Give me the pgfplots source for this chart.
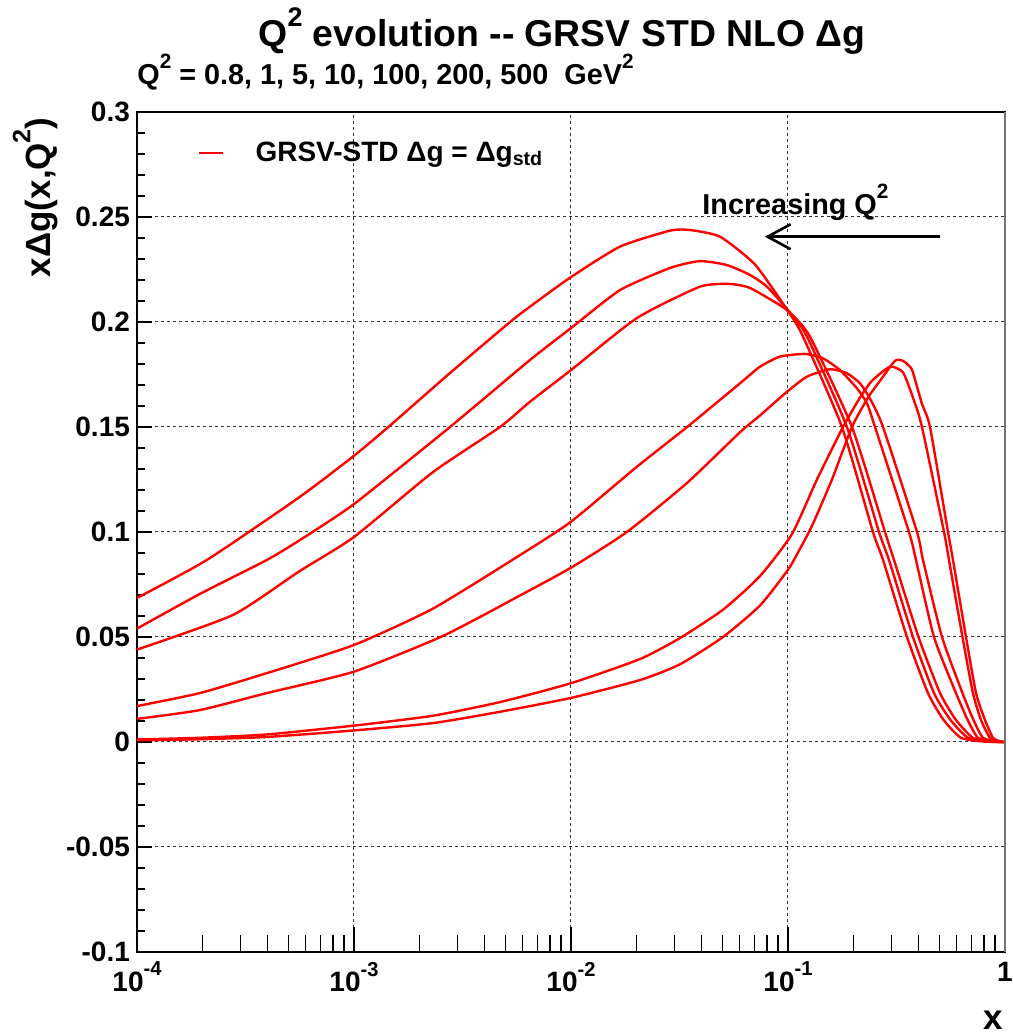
\documentclass[border=0pt]{standalone}
\usepackage{fontspec}
\setmainfont{Liberation Sans}
\usepackage{graphicx}
\usepackage{pgfplots}
\pgfplotsset{compat=1.18}
\usetikzlibrary{arrows.meta}
\newcommand\rsup[1]{\raisebox{0.56em}{\scalebox{0.72}{#1}}}
\pgfplotsset{curve/.style={red, line width=1.2pt, line join=round, mark=none, solid, smooth, tension=0.35}}
\begin{document}
\begin{tikzpicture}
\useasboundingbox (0,0) rectangle (506pt,518pt);
\begin{axis}[
  at={(68.5pt,42pt)}, anchor=south west,
  scale only axis, width=434pt, height=420pt,
  xmode=log, xmin=1e-4, xmax=1, ymin=-0.1, ymax=0.3,
  xtick={1e-4,1e-3,1e-2,1e-1,1},
  xticklabels={10\rsup{-4},10\rsup{-3},10\rsup{-2},10\rsup{-1},1},
  minor xtick={2e-4,3e-4,4e-4,5e-4,6e-4,7e-4,8e-4,9e-4,
               2e-3,3e-3,4e-3,5e-3,6e-3,7e-3,8e-3,9e-3,
               2e-2,3e-2,4e-2,5e-2,6e-2,7e-2,8e-2,9e-2,
               0.2,0.3,0.4,0.5,0.6,0.7,0.8,0.9},
  ytick={-0.1,-0.05,0,0.05,0.1,0.15,0.2,0.25,0.3},
  yticklabels={-0.1,-0.05,0,0.05,0.1,0.15,0.2,0.25,0.3},
  minor y tick num=4,
  tick align=inside, tick pos=left,
  x tick style={/pgfplots/major tick length=12.5pt, /pgfplots/minor tick length=8.5pt, black, line width=0.6pt},
  y tick style={/pgfplots/major tick length=7.5pt, /pgfplots/minor tick length=4pt, black, line width=0.6pt},
  ticklabel style={font=\bfseries\fontsize{14}{16}\selectfont},
  xticklabel style={yshift=-1.5pt},
  grid=major,
  major grid style={black!80, line width=0.5pt, dash pattern=on 1.5pt off 1.5pt},
  axis line style={black, line width=0.7pt},
  clip=false,
  legend style={at={(axis description cs:0.0703,0.9512)}, anchor=west,
    draw=none, fill=none, inner sep=0pt, outer sep=0pt,
    font=\bfseries\fontsize{14}{16}\selectfont, nodes={inner sep=0pt}},
  legend cell align=left,
  legend image code/.code={\draw[red,line width=1.3pt] (0pt,0pt) -- (12pt,0pt); \path (27.5pt,0pt);},
]
% Q2 = 500
\addplot[curve] coordinates {(1e-4,0.0686) (2.1e-4,0.0867) (5.64e-4,0.1168) (1e-3,0.1363) (1.44e-3,0.150) (2.77e-3,0.1757) (5.24e-3,0.200) (6.47e-3,0.2073) (0.01,0.2214) (0.01683,0.2359) (0.02858,0.2435) (0.03532,0.2438) (0.04864,0.2406) (0.0707,0.2272) (0.1021,0.2038) (0.1173,0.193) (0.1773,0.15) (0.2464,0.1) (0.2741,0.0867) (0.3535,0.05) (0.4417,0.0233) (0.5214,0.0105) (0.6268,0.002) (0.8,0.0002) (1,0)};
\addlegendentry{GRSV-STD Δg = Δg\textsubscript{std}}
% Q2 = 200
\addplot[curve] coordinates {(1e-4,0.054) (1.95e-4,0.0705) (3.97e-4,0.0867) (5.64e-4,0.0962) (1e-3,0.1133) (2.77e-3,0.15) (6.47e-3,0.1819) (0.01,0.1971) (0.01683,0.2152) (0.02858,0.2257) (0.03926,0.2290) (0.05236,0.2271) (0.06683,0.2224) (0.0800,0.2168) (0.1021,0.2045) (0.1224,0.193) (0.1869,0.15) (0.2627,0.1) (0.2920,0.0867) (0.3767,0.05) (0.4708,0.0233) (0.5607,0.0105) (0.6753,0.002) (0.85,0.0002) (1,0)};
% Q2 = 100
\addplot[curve] coordinates {(1e-4,0.044) (2.77e-4,0.0605) (5.64e-4,0.0815) (1e-3,0.0976) (2.31e-3,0.1285) (4.71e-3,0.150) (6.47e-3,0.162) (0.01,0.1771) (0.02014,0.2019) (0.03926,0.2168) (0.05408,0.2181) (0.06683,0.2162) (0.0918,0.208) (0.1043,0.2035) (0.1263,0.193) (0.1972,0.15) (0.2799,0.1) (0.3080,0.0867) (0.3995,0.05) (0.5018,0.0233) (0.5944,0.0105) (0.7119,0.002) (0.88,0.0002) (1,0)};
% Q2 = 10
\addplot[curve] coordinates {(1e-4,0.0171) (1.95e-4,0.0233) (3.97e-4,0.0328) (1e-3,0.0462) (2.31e-3,0.0635) (5.82e-3,0.089) (0.01,0.1049) (0.02014,0.1311) (0.03428,0.15) (0.0601,0.1708) (0.0743,0.1787) (0.0918,0.1835) (0.1198,0.1848) (0.1450,0.1827) (0.1736,0.1771) (0.2080,0.1684) (0.2312,0.1613) (0.2518,0.15) (0.3610,0.1) (0.3889,0.0867) (0.4708,0.05) (0.5944,0.0233) (0.6731,0.0105) (0.7513,0.002) (0.9,0.0002) (1,0)};
% Q2 = 5
\addplot[curve] coordinates {(1e-4,0.011) (1.95e-4,0.0152) (3.97e-4,0.0233) (1e-3,0.0335) (2.57e-3,0.0505) (5.64e-3,0.069) (0.01,0.083) (0.0181,0.1) (0.0342,0.1233) (0.0601,0.1475) (0.0743,0.1555) (0.099,0.1668) (0.1224,0.174) (0.1562,0.1775) (0.1869,0.1756) (0.2147,0.1708) (0.2387,0.1635) (0.2741,0.15) (0.3931,0.1) (0.4188,0.0867) (0.5126,0.05) (0.6369,0.0233) (0.7157,0.0105) (0.7917,0.002) (0.92,0.0002) (1,0)};
% Q2 = 1
\addplot[curve] coordinates {(1e-4,0.0012) (1.95e-4,0.002) (3.97e-4,0.0036) (1e-3,0.0078) (2.31e-3,0.0125) (4.71e-3,0.019) (0.01,0.028) (0.0208,0.0395) (0.0318,0.0495) (0.0502,0.063) (0.0743,0.079) (0.1043,0.099) (0.136,0.125) (0.1793,0.15) (0.2147,0.164) (0.2438,0.172) (0.2951,0.1787) (0.3388,0.176) (0.3767,0.164) (0.4144,0.15) (0.5236,0.1) (0.5518,0.0867) (0.6369,0.05) (0.7119,0.0233) (0.775,0.0105) (0.853,0.002) (0.95,0.0002) (1,0)};
% Q2 = 0.8
\addplot[curve] coordinates {(1e-4,0.0008) (1.95e-4,0.0013) (3.97e-4,0.0024) (1e-3,0.0055) (2.31e-3,0.009) (4.71e-3,0.0144) (0.01,0.021) (0.0208,0.0295) (0.0318,0.037) (0.0502,0.050) (0.0743,0.065) (0.1,0.082) (0.1136,0.092) (0.1291,0.103) (0.1595,0.125) (0.1972,0.15) (0.2337,0.164) (0.2655,0.172) (0.3112,0.1815) (0.3388,0.1815) (0.365,0.1787) (0.3767,0.176) (0.4144,0.161) (0.4513,0.15) (0.5462,0.1) (0.5760,0.0867) (0.6612,0.05) (0.7355,0.0233) (0.8087,0.0105) (0.8803,0.002) (0.96,0.0002) (1,0)};
\draw[black!55, line width=1.2pt] (rel axis cs:1,0) -- (rel axis cs:1,1);
\draw[-{Straight Barb[length=11.5pt,width=12.5pt]}, black, line width=1.3pt] (axis cs:0.5018,0.2406) -- (axis cs:0.0783,0.2406);
\end{axis}
\node[anchor=base, font=\bfseries\fontsize{18.7}{21}\selectfont] at (281pt,494.5pt) {Q\rsup{2} evolution {-}{-} GRSV STD NLO Δg};
\node[anchor=base west, font=\bfseries\fontsize{14.4}{16}\selectfont, inner sep=0pt] at (68.5pt,475.5pt) {Q\rsup{2} = 0.8, 1, 5, 10, 100, 200, 500\ \ GeV\rsup{2}};
\node[anchor=base west, font=\bfseries\fontsize{14.4}{16}\selectfont, inner sep=0pt] at (351pt,410.5pt) {Increasing Q\rsup{2}};
\node[rotate=90, anchor=base east, font=\bfseries\fontsize{17.5}{20}\selectfont, inner sep=0pt] at (25pt,459.5pt) {xΔg(x,Q\rsup{2})};
\node[anchor=base east, font=\bfseries\fontsize{17.5}{20}\selectfont, inner sep=0pt] at (501.5pt,3pt) {x};
\end{tikzpicture}
\end{document}
